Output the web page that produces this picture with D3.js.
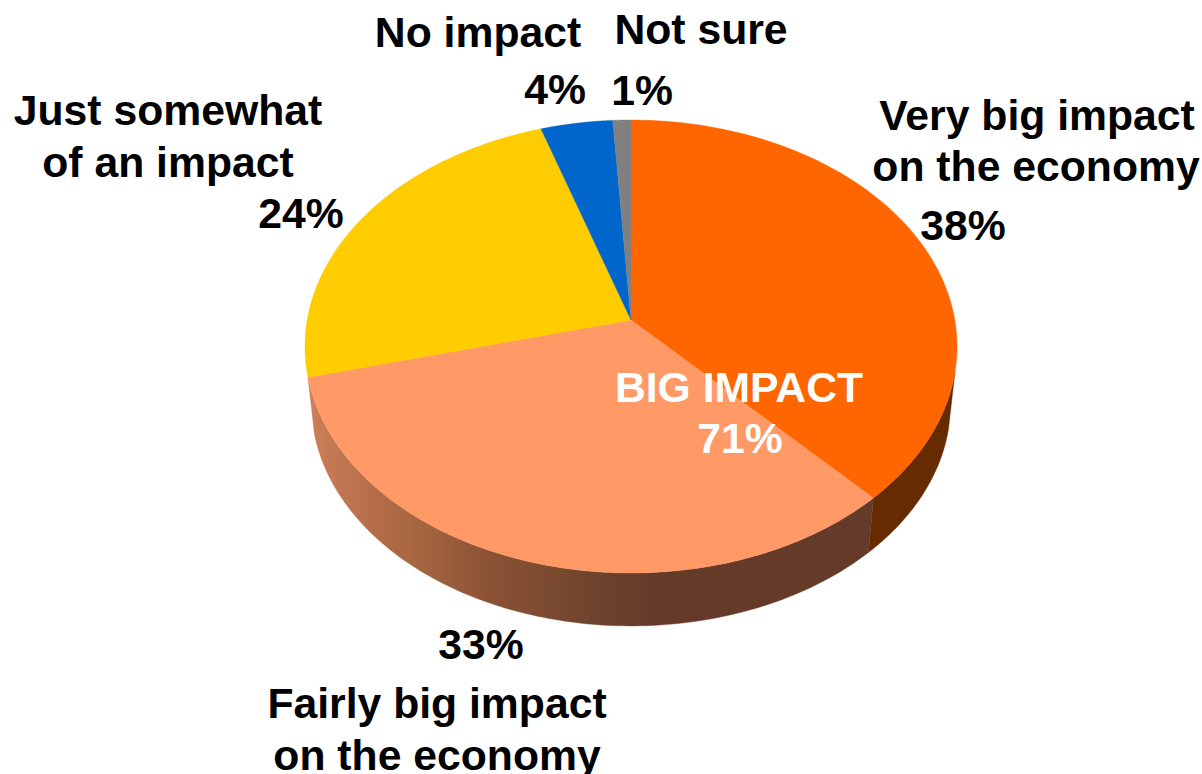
<!DOCTYPE html>
<html>
<head>
<meta charset="utf-8">
<script src="https://cdn.jsdelivr.net/npm/d3@7"></script>
<style>
html,body{margin:0;padding:0;background:#fff;overflow:hidden}
svg{display:block}
text{font-family:"Liberation Sans",Arial,sans-serif;font-weight:700;font-size:42.7px;fill:#000;text-anchor:middle}
</style>
</head>
<body>
<svg id="chart" width="1202" height="774"></svg>
<script>
const categories = ["Very big impact on the economy","Fairly big impact on the economy","Just somewhat of an impact","No impact","Not sure"];
const values = [38,33,24,4,1];
const topColors = ["#ff6600","#ff9966","#ffcc00","#0066cc","#808080"];
const percentLabels = ["38%","33%","24%","4%","1%"];
const calloutLines = ["BIG IMPACT","71%"];

// layout (separate from the data)
const apex = {x:631,y:320}, A = 323.8, B = 223.4, K = 0.117;
const shrink = 0.98, drop = 58;
const labelLayout = [
  {t:["Very big impact","on the economy"],x:[1037,1036],y:[130,181],px:963,py:240},
  {t:["Fairly big impact","on the economy"],x:[437,437],y:[718,770],px:481,py:659},
  {t:["Just somewhat","of an impact"],x:[168,168],y:[125,177],px:301,py:228},
  {t:["No impact"],x:[478],y:[47],px:555,py:104},
  {t:["Not sure"],x:[701],y:[44],px:642,py:105}
];
const sideRanges = [ // visible wall for each slice, in radians of the pie
  {i:0,from:103*Math.PI/180,to:null,fill:"#662b00"},
  {i:1,from:null,to:null,fill:"url(#sideGrad)"}
];

const svg = d3.select("#chart");
const arcs = d3.pie().sort(null).value(d=>d)(values);

// perspective projection of a pie angle on the rim of the disc
function rim(theta){
  const u=Math.sin(theta), v=Math.cos(theta), w=1+K*v;
  return [apex.x+A*u/w, apex.y-B*v/w];
}
function rimLow(theta){
  const p=rim(theta);
  return [apex.x+(p[0]-apex.x)*shrink, apex.y+(p[1]-apex.y)*shrink+drop];
}
const line = d3.line();
const sweep = (a,b,f)=>d3.range(0,121).map(i=>f(a+(b-a)*i/120));

const defs = svg.append("defs");
const grad = defs.append("linearGradient").attr("id","sideGrad")
  .attr("gradientUnits","userSpaceOnUse").attr("x1",310).attr("x2",870).attr("y1",0).attr("y2",0);
[[0,"#cc7f58"],[0.1,"#b86f4b"],[0.2,"#a4643f"],[0.32,"#8c5235"],[0.5,"#6f442d"],[0.62,"#653a29"],[1,"#653a29"]]
  .forEach(s=>grad.append("stop").attr("offset",s[0]).attr("stop-color",s[1]));

// walls
sideRanges.forEach(s=>{
  const a=arcs[s.i];
  const from=s.from===null?a.startAngle:s.from, to=s.to===null?a.endAngle:s.to;
  const pts=sweep(from,to,rim).concat(sweep(to,from,rimLow));
  svg.append("path").attr("d",line(pts)+"Z").attr("fill",s.fill).attr("stroke",s.fill).attr("stroke-width",0.4);
});

// top faces
svg.append("g").selectAll("path").data(arcs).join("path")
  .attr("d",d=>line([[apex.x,apex.y]].concat(sweep(d.startAngle,d.endAngle,rim)))+"Z")
  .attr("fill",(d,i)=>topColors[i])
  .attr("stroke",(d,i)=>topColors[i]).attr("stroke-width",0.4)
  .append("title").text((d,i)=>categories[i]);

// labels
labelLayout.forEach((l,i)=>{
  l.t.forEach((s,j)=>svg.append("text").attr("x",l.x[j]).attr("y",l.y[j]).text(s));
  svg.append("text").attr("x",l.px).attr("y",l.py).text(percentLabels[i]);
});
svg.append("text").attr("x",739).attr("y",402).style("fill","#fff").text(calloutLines[0]);
svg.append("text").attr("x",740).attr("y",453).style("fill","#fff").text(calloutLines[1]);
</script>
</body>
</html>
